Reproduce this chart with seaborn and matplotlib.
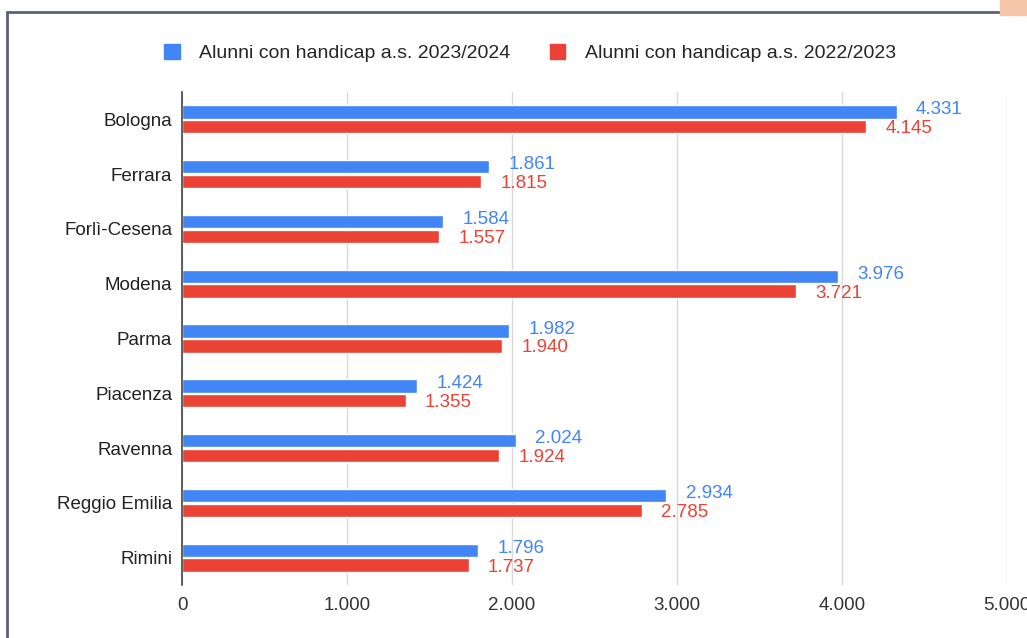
import matplotlib
matplotlib.use("Agg")
import matplotlib.pyplot as plt
import seaborn as sns
import pandas as pd
from matplotlib.lines import Line2D
from matplotlib.patches import Rectangle

provinces = ["Bologna", "Ferrara", "Forlì-Cesena", "Modena", "Parma",
             "Piacenza", "Ravenna", "Reggio Emilia", "Rimini"]
series_names = ["Alunni con handicap a.s. 2023/2024", "Alunni con handicap a.s. 2022/2023"]
values_2324 = [4331, 1861, 1584, 3976, 1982, 1424, 2024, 2934, 1796]
values_2223 = [4145, 1815, 1557, 3721, 1940, 1355, 1924, 2785, 1737]
x_ticks = [0, 1000, 2000, 3000, 4000, 5000]
x_ticklabels = ["0", "1.000", "2.000", "3.000", "4.000", "5.000"]
colors = ["#4285F4", "#EA4335"]

sns.set_theme(style="white")
plt.rcParams["font.family"] = ["Liberation Sans", "DejaVu Sans"]

df = pd.DataFrame({
    "Provincia": provinces * 2,
    "Serie": [series_names[0]] * len(provinces) + [series_names[1]] * len(provinces),
    "Valore": values_2324 + values_2223,
})

fig = plt.figure(figsize=(10.27, 6.38), dpi=100)
fig.patch.set_facecolor("white")
ax = fig.add_axes([182 / 1027, 1 - 585 / 638, 825 / 1027, (585 - 92) / 638])

sns.barplot(data=df, y="Provincia", x="Valore", hue="Serie", orient="h",
            palette=colors, width=0.54, gap=0.1, ax=ax, legend=False, saturation=1,
            errorbar=None)

ax.set_xlim(0, 5000)
ax.set_xticks(x_ticks)
ax.set_xticklabels(x_ticklabels, fontsize=13.5, color="#333333")
ax.tick_params(axis="x", length=0, pad=9)
ax.tick_params(axis="y", length=0, pad=7, labelsize=13.5, labelcolor="#222222")
ax.set_xlabel("")
ax.set_ylabel("")
ax.grid(axis="x", color="#d9d9d9", linewidth=1)
ax.set_axisbelow(True)
for s in ["top", "right", "bottom"]:
    ax.spines[s].set_visible(False)
ax.spines["left"].set_color("#444444")
ax.spines["left"].set_linewidth(1.2)

# value labels (blue nudged up, red nudged down, as in the reference)
for cont, col, dy in zip(ax.containers, colors, [1.5, -1.5]):
    for bar, v in zip(cont.patches, cont.datavalues):
        ax.annotate(f"{int(v):,}".replace(",", "."),
                    xy=(bar.get_width(), bar.get_y() + bar.get_height() / 2),
                    xytext=(14, dy), textcoords="offset points",
                    ha="left", va="center", color=col, fontsize=13.5)

# legend
handles = [Rectangle((0, 0), 1, 1, color=c) for c in colors]
fig.legend(handles, series_names, loc="center", bbox_to_anchor=(530 / 1027, 1 - 53 / 638),
           ncol=2, frameon=False, fontsize=14, handlelength=0.8, handleheight=0.8,
           columnspacing=2.0, handletextpad=1.0)

# screenshot frame
fig.add_artist(Line2D([7 / 1027, 7 / 1027], [0, 1 - 12 / 638], transform=fig.transFigure,
                      color="#5a6275", linewidth=2))
fig.add_artist(Line2D([7 / 1027, 1020 / 1027], [1 - 12 / 638, 1 - 12 / 638], transform=fig.transFigure,
                      color="#5a6275", linewidth=2))
fig.add_artist(Rectangle((1000 / 1027, 1 - 15 / 638), 27 / 1027, 15 / 638, transform=fig.transFigure,
                         color="#f5c6a8", zorder=5))

fig.savefig("out.png", dpi=100, facecolor="white")
